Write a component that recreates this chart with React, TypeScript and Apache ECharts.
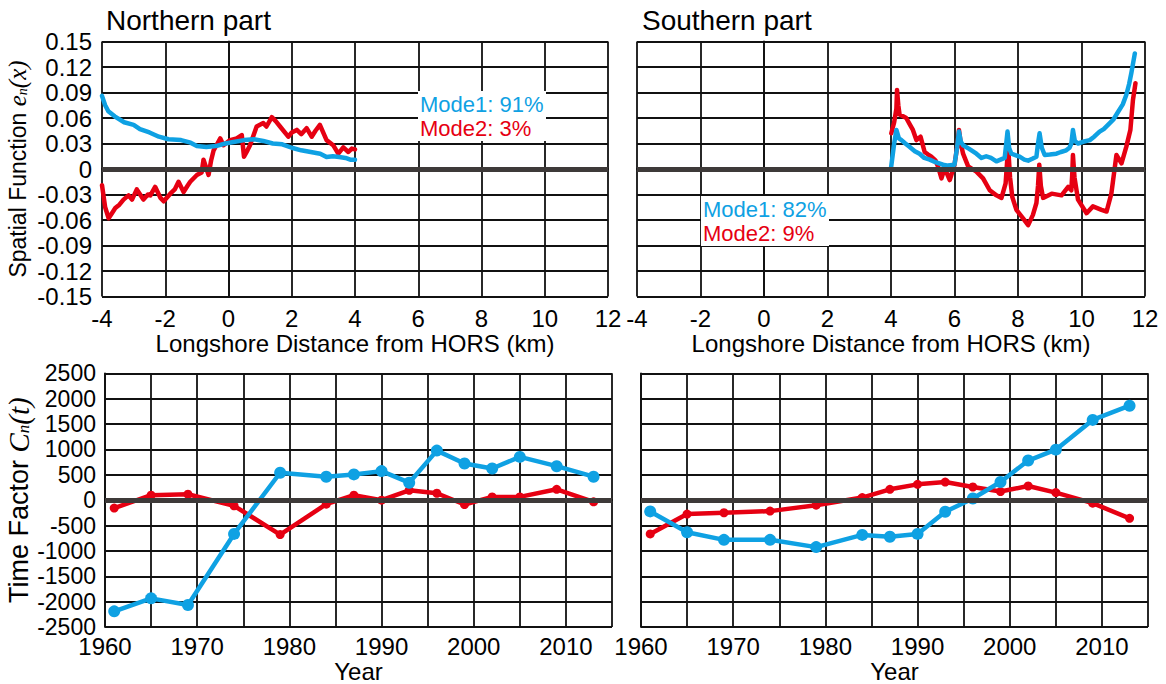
import React, { useEffect, useRef } from "react";
import * as echarts from "echarts";

// ---------- data ----------
const distTicks = [-4, -2, 0, 2, 4, 6, 8, 10, 12];
const years = [1961, 1965, 1969, 1974, 1979, 1984, 1987, 1990, 1993, 1996, 1999, 2002, 2005, 2009, 2013];

const northMode1X = [-4.0, -3.9, -3.8, -3.6, -3.3, -3.0, -2.8, -2.5, -2.2, -1.9, -1.5, -1.2, -1.0, -0.7, -0.4, -0.1, 0.2, 0.5, 0.8, 1.1, 1.4, 1.7, 2.0, 2.3, 2.6, 2.9, 3.1, 3.3, 3.5, 3.7, 3.85, 4.0];
const northMode1Y = [0.086, 0.075, 0.068, 0.062, 0.055, 0.052, 0.047, 0.043, 0.038, 0.035, 0.034, 0.031, 0.027, 0.026, 0.027, 0.030, 0.032, 0.034, 0.035, 0.033, 0.030, 0.029, 0.025, 0.022, 0.020, 0.018, 0.014, 0.015, 0.014, 0.013, 0.011, 0.011];

const northMode2X = [-4.0, -3.9, -3.79, -3.65, -3.58, -3.45, -3.32, -3.16, -3.05, -2.9, -2.69, -2.55, -2.47, -2.32, -2.15, -2.05, -1.84, -1.7, -1.58, -1.42, -1.3, -1.21, -1.0, -0.85, -0.79, -0.63, -0.55, -0.47, -0.35, -0.26, -0.16, 0.05, 0.26, 0.42, 0.49, 0.6, 0.68, 0.89, 1.1, 1.2, 1.37, 1.5, 1.63, 1.89, 2.0, 2.16, 2.3, 2.47, 2.63, 2.75, 2.89, 3.1, 3.31, 3.47, 3.63, 3.79, 3.9, 4.0];
const northMode2Y = [-0.019, -0.045, -0.058, -0.050, -0.046, -0.042, -0.036, -0.031, -0.036, -0.024, -0.036, -0.030, -0.031, -0.021, -0.034, -0.038, -0.029, -0.024, -0.015, -0.027, -0.020, -0.015, -0.007, -0.004, 0.011, -0.007, 0.010, 0.022, 0.030, 0.036, 0.028, 0.034, 0.036, 0.040, 0.0145, 0.022, 0.028, 0.050, 0.054, 0.050, 0.061, 0.056, 0.050, 0.038, 0.043, 0.046, 0.041, 0.048, 0.038, 0.045, 0.052, 0.034, 0.028, 0.018, 0.0255, 0.020, 0.024, 0.023];

const southMode1X = [4.0, 4.1, 4.17, 4.25, 4.33, 4.45, 4.59, 4.75, 4.9, 5.05, 5.22, 5.4, 5.64, 5.8, 6.0, 6.08, 6.14, 6.2, 6.27, 6.45, 6.69, 6.85, 7.0, 7.15, 7.32, 7.45, 7.58, 7.63, 7.67, 7.72, 7.79, 8.05, 8.2, 8.32, 8.45, 8.58, 8.63, 8.68, 8.75, 8.84, 9.0, 9.21, 9.35, 9.52, 9.62, 9.68, 9.73, 9.79, 9.89, 10.05, 10.26, 10.4, 10.57, 10.7, 10.89, 11.0, 11.15, 11.3, 11.41, 11.5, 11.57, 11.68];
const southMode1Y = [0.001, 0.030, 0.046, 0.036, 0.034, 0.030, 0.026, 0.021, 0.018, 0.013, 0.011, 0.008, 0.005, 0.004, 0.005, 0.025, 0.044, 0.032, 0.028, 0.024, 0.018, 0.013, 0.015, 0.013, 0.009, 0.011, 0.013, 0.030, 0.044, 0.025, 0.018, 0.0145, 0.011, 0.0098, 0.012, 0.0145, 0.030, 0.042, 0.025, 0.0165, 0.017, 0.018, 0.020, 0.022, 0.025, 0.030, 0.046, 0.033, 0.030, 0.032, 0.034, 0.038, 0.044, 0.047, 0.054, 0.058, 0.067, 0.076, 0.087, 0.100, 0.113, 0.136];

const southMode2X = [4.01, 4.1, 4.17, 4.19, 4.23, 4.27, 4.38, 4.48, 4.6, 4.69, 4.8, 4.93, 5.06, 5.17, 5.27, 5.4, 5.48, 5.59, 5.69, 5.85, 6.0, 6.1, 6.14, 6.2, 6.27, 6.43, 6.69, 6.9, 7.11, 7.32, 7.48, 7.61, 7.69, 7.75, 7.82, 7.95, 8.16, 8.32, 8.47, 8.58, 8.63, 8.67, 8.72, 8.79, 9.06, 9.37, 9.58, 9.68, 9.71, 9.73, 9.78, 9.89, 10.16, 10.36, 10.63, 10.79, 10.94, 11.1, 11.26, 11.41, 11.54, 11.62, 11.7];
const southMode2Y = [0.042, 0.055, 0.071, 0.093, 0.075, 0.064, 0.062, 0.060, 0.052, 0.046, 0.034, 0.038, 0.020, 0.017, 0.0145, 0.010, 0.003, -0.011, 0.001, -0.013, 0.005, 0.030, 0.046, 0.030, 0.018, 0.003, -0.003, -0.011, -0.025, -0.031, -0.034, -0.017, 0.026, -0.010, -0.033, -0.048, -0.058, -0.066, -0.054, -0.040, -0.020, 0.005, -0.020, -0.034, -0.029, -0.031, -0.021, -0.025, -0.005, 0.0165, -0.010, -0.036, -0.052, -0.044, -0.048, -0.050, -0.029, 0.0165, 0.0067, 0.026, 0.046, 0.081, 0.101];

const northC1 = [-2190, -1934, -2064, -664, 541, 463, 508, 573, 345, 977, 723, 625, 853, 670, 463];
const northC2 = [-156, 98, 117, -111, -677, -78, 98, 0, 195, 137, -85, 65, 65, 215, -33];
const southC1 = [-221, -631, -781, -781, -924, -684, -720, -664, -228, 33, 358, 781, 996, 1582, 1862];
const southC2 = [-664, -273, -247, -215, -98, 52, 215, 312, 358, 260, 170, 280, 150, -59, -358];

const northLegend = ["Mode1: 91%", "Mode2: 3%"];
const southLegend = ["Mode1: 82%", "Mode2: 9%"];

// ---------- styles ----------
const BLUE = "#0fa1e3";
const RED = "#e60012";
const FONT = "'Liberation Sans', Arial, sans-serif";
const SERIF = "'Liberation Serif', 'DejaVu Serif', serif";

const zip = (xs: number[], ys: number[]) => xs.map((x, i) => [x, ys[i]]);

export default function App() {
  const ref = useRef<HTMLDivElement>(null);

  useEffect(() => {
    if (!ref.current) return;
    const chart = echarts.init(ref.current, null, { renderer: "svg" });

    const grids = [
      { left: 102, top: 41.5, width: 506, height: 255 },
      { left: 637, top: 41.5, width: 508, height: 255 },
      { left: 105, top: 373.3, width: 507, height: 256 },
      { left: 641, top: 373.3, width: 507, height: 256 },
    ];

    const gridLine = { show: true, lineStyle: { color: "#111", width: 1.8 } };
    const axisLine = { show: true, lineStyle: { color: "#111", width: 1.8 } };
    const labelStyle = { color: "#000", fontSize: 24, fontFamily: FONT };
    const makeName = (size: number) => ({
      color: "#000",
      fontSize: size,
      fontFamily: FONT,
      rich: {
        i: { fontFamily: SERIF, fontStyle: "italic", fontSize: size + 2, color: "#000" },
        s: { fontFamily: SERIF, fontStyle: "italic", fontSize: Math.round(size * 0.62), color: "#000", padding: [10, 0, 0, 0] },
      },
    });

    const distAxis = (gi: number) => ({
      type: "value",
      gridIndex: gi,
      min: distTicks[0],
      max: distTicks[distTicks.length - 1],
      interval: 2,
      axisLine,
      axisTick: { show: false },
      splitLine: gridLine,
      axisLabel: { ...labelStyle, margin: 10 },
      name: "Longshore Distance from HORS (km)",
      nameLocation: "middle",
      nameGap: 35,
      nameTextStyle: makeName(24),
    });

    const yearAxis = (gi: number) => ({
      type: "value",
      gridIndex: gi,
      min: 1960,
      max: 2015,
      interval: 5,
      axisLine,
      axisTick: { show: false },
      splitLine: gridLine,
      axisLabel: {
        ...labelStyle,
        fontSize: 24,
        lineHeight: 18,
        margin: 10,
        formatter: (v: number) => (v % 10 === 0 ? String(v) : ""),
      },
      name: "Year",
      nameLocation: "middle",
      nameGap: 31,
      nameTextStyle: makeName(24),
    });

    const fmtSpatial = (v: number) => {
      const r = Math.round(v * 100) / 100;
      return r === 0 ? "0" : r.toFixed(2);
    };

    const spatialAxis = (gi: number, showLabel: boolean) => ({
      type: "value",
      gridIndex: gi,
      min: -0.15,
      max: 0.15,
      interval: 0.03,
      axisLine,
      axisTick: { show: false },
      splitLine: gridLine,
      axisLabel: { ...labelStyle, show: showLabel, margin: 10, formatter: fmtSpatial },
      name: showLabel ? "Spatial Function {i|e}{s|n}{i|(x)}" : "",
      nameLocation: "middle",
      nameGap: 72,
      nameTextStyle: makeName(23),
    });

    const timeAxis = (gi: number, showLabel: boolean) => ({
      type: "value",
      gridIndex: gi,
      min: -2500,
      max: 2500,
      interval: 500,
      axisLine,
      axisTick: { show: false },
      splitLine: gridLine,
      axisLabel: {
        ...labelStyle,
        fontSize: 23,
        lineHeight: 18,
        show: showLabel,
        margin: 9,
        formatter: (v: number) => String(v),
      },
      name: showLabel ? "Time Factor {i|C}{s|n}{i|(t)}" : "",
      nameLocation: "middle",
      nameGap: 72,
      nameTextStyle: makeName(27),
    });

    const zeroSeries = (gi: number) => ({
      type: "line",
      xAxisIndex: gi,
      yAxisIndex: gi,
      data: [],
      z: 1,
      silent: true,
      markLine: {
        silent: true,
        symbol: ["none", "none"],
        label: { show: false },
        lineStyle: { color: "#3e3a39", width: 5, type: "solid" },
        data: [{ yAxis: 0 }],
      },
    });

    const profile = (gi: number, data: number[][], color: string) => ({
      type: "line",
      xAxisIndex: gi,
      yAxisIndex: gi,
      data,
      showSymbol: false,
      symbol: "none",
      z: 3,
      lineStyle: { color, width: 4.5, join: "round", cap: "round" },
    });

    const timeline = (gi: number, values: number[], color: string, size: number) => ({
      type: "line",
      xAxisIndex: gi,
      yAxisIndex: gi,
      data: zip(years, values),
      symbol: "circle",
      symbolSize: size,
      z: 3,
      itemStyle: { color },
      lineStyle: { color, width: 4.5 },
    });

    const legendBlock = (x: number, y: number, lines: string[]) => [
      { type: "rect", z: 100, shape: { x: x - 2, y: y - 13, width: 128, height: 50 }, style: { fill: "#fff" } },
      {
        type: "text",
        z: 101,
        x,
        y,
        style: { text: lines[0], fill: BLUE, fontSize: 22, fontFamily: FONT, verticalAlign: "middle" },
      },
      {
        type: "text",
        z: 101,
        x,
        y: y + 24.5,
        style: { text: lines[1], fill: RED, fontSize: 22, fontFamily: FONT, verticalAlign: "middle" },
      },
    ];

    const titleStyle = { fontSize: 28, fontWeight: "normal", color: "#000", fontFamily: FONT };

    const option = {
      animation: false,
      backgroundColor: "#fff",
      title: [
        { text: "Northern part", left: 106, top: 6, padding: 0, textStyle: titleStyle },
        { text: "Southern part", left: 642, top: 6, padding: 0, textStyle: titleStyle },
      ],
      grid: grids.map((g) => ({ ...g, containLabel: false, show: false })),
      xAxis: [distAxis(0), distAxis(1), yearAxis(2), yearAxis(3)],
      yAxis: [spatialAxis(0, true), spatialAxis(1, false), timeAxis(2, true), timeAxis(3, false)],
      series: [
        zeroSeries(0),
        zeroSeries(1),
        zeroSeries(2),
        zeroSeries(3),
        profile(0, zip(northMode2X, northMode2Y), RED),
        profile(0, zip(northMode1X, northMode1Y), BLUE),
        profile(1, zip(southMode2X, southMode2Y), RED),
        profile(1, zip(southMode1X, southMode1Y), BLUE),
        timeline(2, northC2, RED, 9),
        timeline(2, northC1, BLUE, 12),
        timeline(3, southC2, RED, 9),
        timeline(3, southC1, BLUE, 12),
      ],
      graphic: [...legendBlock(420, 104, northLegend), ...legendBlock(703, 209, southLegend)],
    };

    chart.setOption(option as any);
    return () => chart.dispose();
  }, []);

  return (
    <div
      ref={ref}
      style={{ position: "fixed", left: 0, top: 0, width: 1166, height: 684, background: "#fff" }}
    />
  );
}
